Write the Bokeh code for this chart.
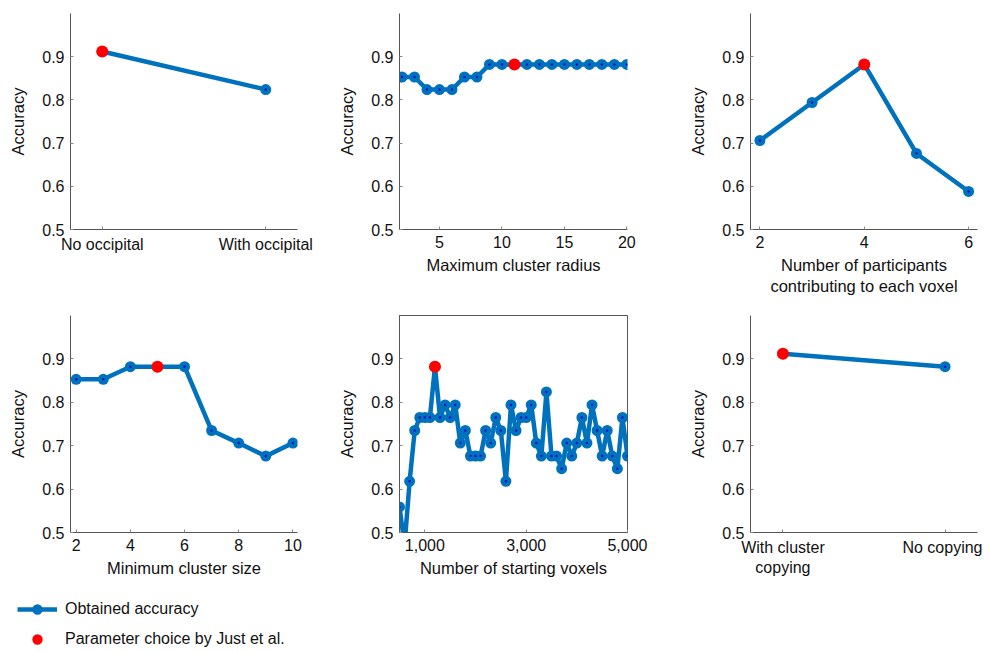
from bokeh.plotting import figure
from bokeh.layouts import column, row
from bokeh.models import Range1d, FixedTicker, NumeralTickFormatter, Legend, LegendItem
from bokeh.embed import file_html
from bokeh.resources import INLINE

FONT = "Liberation Sans"
BLUE = "#0072BD"
RED = "#FF0000"
DOT = "#1414C8"
AXIS = "#555555"

# ---- data ----
occ_x = [1, 2]
occ_labels = ["No occipital", "With occipital"]
occ_acc = [0.912, 0.824]
occ_choice = 1

radius_x = [2, 3, 4, 5, 6, 7, 8, 9, 10, 11, 12, 13, 14, 15, 16, 17, 18, 19, 20]
radius_acc = [0.853, 0.853, 0.824, 0.824, 0.824, 0.853, 0.853, 0.882, 0.882, 0.882,
              0.882, 0.882, 0.882, 0.882, 0.882, 0.882, 0.882, 0.882, 0.882]
radius_choice = 11

part_x = [2, 3, 4, 5, 6]
part_acc = [0.706, 0.794, 0.882, 0.676, 0.588]
part_choice = 4

size_x = [2, 3, 4, 5, 6, 7, 8, 9, 10]
size_acc = [0.853, 0.853, 0.882, 0.882, 0.882, 0.735, 0.706, 0.676, 0.706]
size_choice = 5

vox_x = [500, 600, 700, 800, 900, 1000, 1100, 1200, 1300, 1400, 1500, 1600, 1700, 1800,
         1900, 2000, 2100, 2200, 2300, 2400, 2500, 2600, 2700, 2800, 2900, 3000, 3100,
         3200, 3300, 3400, 3500, 3600, 3700, 3800, 3900, 4000, 4100, 4200, 4300, 4400,
         4500, 4600, 4700, 4800, 4900, 5000]
vox_acc = [0.559, 0.471, 0.618, 0.735, 0.765, 0.765, 0.765, 0.882, 0.765, 0.794, 0.765,
           0.794, 0.706, 0.735, 0.676, 0.676, 0.676, 0.735, 0.706, 0.765, 0.735, 0.618,
           0.794, 0.735, 0.765, 0.765, 0.794, 0.706, 0.676, 0.824, 0.676, 0.676, 0.647,
           0.706, 0.676, 0.706, 0.765, 0.706, 0.794, 0.735, 0.676, 0.735, 0.676, 0.647,
           0.765, 0.676]
vox_choice = 1200

copy_x = [1, 2]
copy_labels = ["With cluster\ncopying", "No copying"]
copy_acc = [0.912, 0.882]
copy_choice = 1

y_ticks = [0.5, 0.6, 0.7, 0.8, 0.9]


def panel(x, y, choice, xr, ticks, width, height, bl, br, bt, bb, xlabel,
          overrides=None, fmt=None, box=False):
    p = figure(width=width, height=height, x_range=Range1d(*xr), y_range=Range1d(0.5, 1.0),
               output_backend="svg", toolbar_location=None,
               min_border_left=bl, min_border_right=br, min_border_top=bt, min_border_bottom=bb)
    p.line(x, y, line_color=BLUE, line_width=4.5)
    p.scatter(x, y, size=11, fill_color=BLUE, line_color=None)
    p.scatter(x, y, size=2.5, fill_color=DOT, line_color=None)
    i = x.index(choice)
    p.scatter([x[i]], [y[i]], size=12, fill_color=RED, line_color=None)

    p.grid.visible = False
    p.outline_line_color = AXIS if box else None
    p.outline_line_width = 1
    p.background_fill_color = "white"
    p.border_fill_color = "white"

    p.xaxis.ticker = FixedTicker(ticks=ticks)
    p.yaxis.ticker = FixedTicker(ticks=y_ticks)
    if overrides:
        p.xaxis.major_label_overrides = overrides
    if fmt:
        p.xaxis.formatter = fmt
    p.xaxis.axis_label = xlabel
    p.yaxis.axis_label = "Accuracy"
    for ax in (p.xaxis[0], p.yaxis[0]):
        ax.axis_line_color = AXIS
        ax.axis_line_width = 1
        ax.major_tick_line_color = "#888888"
        ax.major_tick_in = 3
        ax.major_tick_out = 0
        ax.minor_tick_line_color = None
        ax.major_label_text_font = FONT
        ax.major_label_text_font_size = "16px"
        ax.major_label_text_color = "#111111"
        ax.major_label_standoff = 6
        ax.axis_label_text_font = FONT
        ax.axis_label_text_font_size = "16.5px"
        ax.axis_label_text_font_style = "normal"
        ax.axis_label_text_color = "#111111"
    p.xaxis.axis_label_standoff = 5
    p.yaxis.axis_label_standoff = 12
    return p


H1, H2 = 305, 283
p1 = panel(occ_x, occ_acc, occ_choice, (0.806, 2.194), occ_x, 330, H1, 70, 33, 13, 76, "",
           overrides={1: occ_labels[0], 2: occ_labels[1]})
p2 = panel(radius_x, radius_acc, radius_choice, (1.8, 20.05), [5, 10, 15, 20], 350, H1, 69, 53, 13, 76,
           "Maximum cluster radius")
p3 = panel(part_x, part_acc, part_choice, (1.82, 6.17), [2, 4, 6], 302, H1, 70, 5, 13, 76,
           "Number of participants\ncontributing to each voxel")
p4 = panel(size_x, size_acc, size_choice, (1.79, 10.17), [2, 4, 6, 8, 10], 330, H2, 70, 33, 10, 56,
           "Minimum cluster size")
p5 = panel(vox_x, vox_acc, vox_choice, (500, 5000), [1000, 3000, 5000], 350, H2, 69, 53, 10, 56,
           "Number of starting voxels", fmt=NumeralTickFormatter(format="0,0"), box=True)
p6 = panel(copy_x, copy_acc, copy_choice, (0.8, 2.2), copy_x, 302, H2, 70, 5, 10, 56, "",
           overrides={1: copy_labels[0], 2: copy_labels[1]})

# ---- legend (hidden proxy renderers, drawn only as legend glyphs) ----
H3 = 652 - H1 - H2
lp = figure(width=982, height=H3, x_range=Range1d(0, 1), y_range=Range1d(0, 1),
            output_backend="svg", toolbar_location=None, min_border=0)
lp.axis.visible = False
lp.grid.visible = False
lp.outline_line_color = None
r_line = lp.line(size_x, size_acc, line_color=BLUE, line_width=4.5, visible=False)
r_mark = lp.scatter(size_x, size_acc, fill_color=BLUE, line_color=None, visible=False)
r_red = lp.scatter(size_x, size_acc, fill_color=RED, line_color=None, visible=False)
legend = Legend(items=[LegendItem(label="Obtained accuracy", renderers=[r_line, r_mark]),
                       LegendItem(label="Parameter choice by Just et al.", renderers=[r_red])],
                location=(17, 0), margin=0, padding=0, spacing=4,
                glyph_width=40, glyph_height=26, label_height=26, label_standoff=8,
                label_text_font=FONT, label_text_font_size="16px", label_text_color="#111111",
                border_line_color=None, background_fill_alpha=0)
lp.add_layout(legend, "center")

layout = column(row(p1, p2, p3), row(p4, p5, p6), lp)
open("out.html", "w").write(file_html(layout, INLINE))
